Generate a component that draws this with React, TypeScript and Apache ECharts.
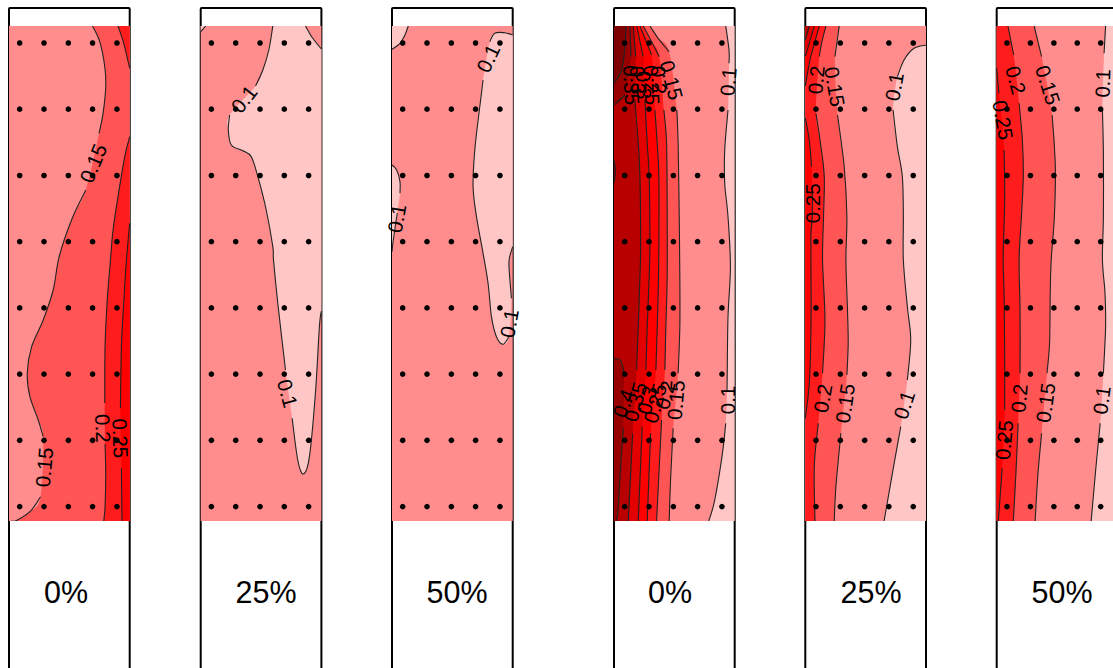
import React, { useEffect, useRef } from "react";
import * as echarts from "echarts";

type P = [number, number] | null;

const panelLeft = [9, 200.7, 392, 614, 805.3, 996.7];
const panelNames = ["0%", "25%", "50%", "0%", "25%", "50%"];
const panelNameX = [66, 266, 457, 670, 871, 1062];
const dotX = [10.7, 35.1, 59.5, 83.8, 108.2];
const dotY = [17, 83.2, 149.5, 215.7, 281.9, 348.1, 414.3, 480.6];
const levelColors = ["#FFC6C6", "#FF8D8D", "#FF5555", "#FF1C1C", "#FF0000", "#E30000", "#B80000", "#980000", "#7E0000"];

// ---- Panel 1 contours
const a15: P[] = [[83.7,0],[91,15.7],[96,40.7],[97,60.7],[94.3,87.3],[90.3,107.3],null,[77,164],[62.7,194],[50.3,230.7],[44.3,264],[34.3,294],[22.7,320.7],[18.3,347.3],[21,370.7],[29.3,394],[34.3,410.7],null,[31.7,470.7],[21,485.7],[7,494.7],[2,495]];
const a20a: P[] = [[109.3,0],[115,17.3],[121,42.3]];
const a20b: P[] = [[121,110.7],[116,130.7],[109.3,170.7],[104.3,204],[101.7,234],[98.3,277.3],[96.3,320.7],[96,377],null,[96.3,418],[97,447.3],[96.3,480.7],[95,495]];
const a25: P[] = [[121,197.3],[117.7,234],[115,277.3],[112.7,320.7],[111.7,382.3],null,[112.7,442.3],[113.3,495]];
// ---- Panel 2 contours
const b10tl: P[] = [[0,5.7],[5,0]];
const b10: P[] = [[72.3,0],[68.3,24],[62.3,44],[55,60],null,[29,89],[27.7,104],[30.7,119],[42.3,124.7],[50.7,130.7],[57.3,150.7],[65.7,184],[72.3,220.7],[73,234],[77.3,277.3],[85,344],null,[91.7,392.3],[97.3,434],[103,448],[109,430.7],[115,367.3],[119,300.7],[121,285]];
const b10tr: P[] = [[121,23],[112.3,12.3],[105,0]];
// ---- Panel 3 contours
const c10tl: P[] = [[0,23.3],[8,17.3],[13,9],[16.3,0]];
const c10l: P[] = [[0,139],[4.7,144],[8,155.7],[8,167.3],null,[5.3,187],[1.3,214],[0,225.7]];
const c10r: P[] = [[121,9],[113,6.7],[103,7.3],[98,15.7],null,[91.3,54],[88,80.7],[83,124],[81.3,160.7],[84.7,190.7],[91.3,227.3],[96.3,257.3],[99.7,290.7],[104.7,310.7],[111.3,318.3],[117.3,310.7],null,[119.7,272.3],[117.3,240.7],[118,230.7],[121,220.7]];
// ---- Panel 4 contours
const d10: P[] = [[112,0],[115.3,24],[115.3,37.3],null,[114.3,84],[111,124],[111,157.3],[114.3,190.7],[116.7,240.7],[114.3,290.7],[113.5,347.3],[113.3,365],null,[112,397.3],[108.7,427.3],[101,474],[95,495]];
const d15: P[] = [[36,0],[44.3,12.3],[55.3,25.7],null,[63,84],[64.3,117.3],[65.3,184],[66,250.7],[66,300.7],[64.3,347.3],null,[59.3,402.3],[56.7,454],[55.3,495]];
const d20: P[] = [[29.3,0],[37.7,15.7],[45.3,30.7],null,[50,84],[52.7,117.3],[53.3,184],[53.3,250.7],[52,300.7],[51,344],null,[47.7,394],[42.7,495]];
const d25: P[] = [[26,0],[37.7,29],null,[41,84],[43.3,117.3],[45,150.7],[45,217.3],[44.3,267.3],[42,344],null,[36.7,407.3],[33.3,495]];
const d30: P[] = [[22.7,0],[29.3,30.7],null,[31,74],[33.3,117.3],[35.3,150.7],[36,217.3],[35.3,250.7],[33.3,300.7],[32,344],null,[28.3,400.7],[24.3,495]];
const d35: P[] = [[19.3,0],[21.7,30.7],null,[21,74],[24.3,117.3],[26,150.7],[26.7,217.3],[26,250.7],[24.3,300.7],[22.7,344],null,[18.7,407.3],[14.3,495]];
const d40a: P[] = [[16,0],[17,30.7],null,[11,69],[0,79]];
const d40b: P[] = [[0,134],[1.5,145],[0,157]];
const d40c: P[] = [[0,332.3],[6,334],[9.3,342.3],[10,350.7],null,[9.3,402.3],[6.7,440.7],[4.3,480.7],[2.7,495]];
const d45: P[] = [[12,0],[11,20.7],[7.7,44],[0,57.3]];
// ---- Panel 5 contours
const e10: P[] = [[121,19],[109,22.3],[99,34],[92.3,50.7],null,[88,84],[92.3,120.7],[97.3,150.7],[98.3,190.7],[98.3,234],[102.3,280.7],[105.7,314],[102.3,354],null,[95.7,400.7],[87.3,447.3],[79,495]];
const e15: P[] = [[34,0],[29.7,30.7],null,[32.3,89],[39,140.7],[41.7,190.7],[40.7,234],[42.3,284],[43,317.3],[41.7,349],null,[35.7,407.3],[30.7,460.7],[29,495]];
const e20: P[] = [[20.7,0],[16.3,17.3],[14,30.7],null,[10.7,87.3],[15.7,120.7],[19,150.7],[18.3,190.7],[17.3,234],[19.7,294],[17.3,347.3],null,[13,397.3],[9,440.7],[9.7,495]];
const e25a: P[] = [[14,0],[7.3,24],[4,37.3],[0,60]];
const e25b: P[] = [[0,92],[4,114],[6.3,140.7],null,[7,160],[7,190],[5.7,207],[5.7,234],[5.7,300.7],[4,357.3],[0,392.3]];
const e30: P[] = [[9,0],[4,17.3],[1,27.3],[0,30]];
const e35: P[] = [[4,0],[0,14]];
// ---- Panel 6 contours
const f10: P[] = [[113.3,0],[111.7,27.3],null,[110,84],[111,127.3],[111,190.7],[110,234],[112.7,267.3],[113.3,300.7],[111,347.3],null,[107.7,397.3],[103.3,440.7],[98.3,495]];
const f15: P[] = [[39,0],[46.7,30.7],null,[57.7,89],[61,140.7],[60,190.7],[56.7,234],[55.7,267.3],[55,317.3],[52.3,347.3],null,[46.7,407.3],[42.7,450.7],[40,495]];
const f20: P[] = [[11.7,0],[17.7,29],null,[23.3,77.3],[26.7,114],[27.7,150.7],[25.7,190.7],[23.3,234],[24.3,284],[24.3,347.3],null,[22.3,397.3],[20,447.3],[17.3,495]];
const f25: P[] = [[0,42.3],[2.3,67.3],null,[7.7,124],[8.3,174],[6.7,234],[7.7,267.3],[8.3,334],[8.3,384],null,[5.7,442.3],[1.7,495]];

const BL: P = [0, 495];
const BR: P = [121, 495];
const TL: P = [0, 0];
const TR: P = [121, 0];

// [level, ...boundary parts], painted in order over the panel's base level
const panelBase = [1, 1, 1, 0, 1, 1];
const panelFills: [number, P[][]][][] = [
  [[2, [a15, [BR, TR]]], [3, [a20a, [TR]]], [3, [a20b, [BR]]], [4, [a25, [BR]]]],
  [[0, [b10tl, [TL]]], [0, [b10, b10tr]]],
  [[0, [c10tl, [TL]]], [0, [c10l]], [0, [c10r]]],
  [[1, [d10, [BL, TL]]], [2, [d15, [BL, TL]]], [3, [d20, [BL, TL]]], [4, [d25, [BL, TL]]], [5, [d30, [BL, TL]]], [6, [d35, [BL, TL]]], [7, [d40a, [TL]]], [7, [d40b]], [7, [d40c, [BL]]], [8, [d45, [TL]]]],
  [[0, [e10, [BR]]], [2, [e15, [BL, TL]]], [3, [e20, [BL, TL]]], [4, [e25a, [TL]]], [4, [e25b]], [5, [e30, [TL]]], [6, [e35, [TL]]]],
  [[0, [f10, [BR, TR]]], [2, [f15, [BL, TL]]], [3, [f20, [BL, TL]]], [4, [f25, [BL]]]],
];
const panelLines: P[][][] = [
  [a15, a20a, a20b, a25],
  [b10tl, b10, b10tr],
  [c10tl, c10l, c10r],
  [d10, d15, d20, d25, d30, d35, d40a, d40b, d40c, d45],
  [e10, e15, e20, e25a, e25b, e30, e35],
  [f10, f15, f20, f25],
];
// [x, y, rotation in degrees, text]
const panelLabels: [number, number, number, string][][] = [
  [[84.3,137.3,67,"0.15"],[35,441.3,85,"0.15"],[94.3,402.3,-88,"0.2"],[111.7,412.3,-88,"0.25"]],
  [[43.3,73,52,"0.1"],[87.3,367.3,-75,"0.1"]],
  [[96.3,32.3,65,"0.1"],[4.7,192.3,80,"0.1"],[117.3,297.3,80,"0.1"]],
  [[114.3,55.7,85,"0.1"],[57.7,54,-75,"0.15"],[17.5,59,-87,"0.35"],[24,54,-87,"0.3"],[30,59,-87,"0.3"],[38,59,-87,"0.25"],[45,54,-87,"0.2"],
   [113.7,374,90,"0.1"],[62,374,85,"0.15"],[51,369,75,"0.2"],[41,377.3,75,"0.25"],[32.7,374,75,"0.3"],[21,375.7,75,"0.35"],[9.3,377.3,70,"0.4"]],
  [[29.7,60.7,-80,"0.15"],[10.7,54,85,"0.2"],[89,60.7,80,"0.1"],[7.3,177.3,90,"0.25"],[17.3,372.3,80,"0.2"],[39.7,377.3,82,"0.15"],[99,379,72,"0.1"]],
  [[20,54,-75,"0.2"],[53.3,59,-72,"0.15"],[6.7,94,-80,"0.25"],[110,57.3,88,"0.1"],[23.3,372.3,85,"0.2"],[50.7,376.7,82,"0.15"],[109,374,82,"0.1"],[7.7,414,85,"0.25"]],
];

function smoothTo(pts: number[][], move: boolean): string {
  let d = move ? `M${pts[0][0]} ${pts[0][1]}` : `L${pts[0][0]} ${pts[0][1]}`;
  for (let i = 0; i < pts.length - 1; i++) {
    const p0 = pts[Math.max(i - 1, 0)];
    const p1 = pts[i];
    const p2 = pts[i + 1];
    const p3 = pts[Math.min(i + 2, pts.length - 1)];
    const c1x = p1[0] + (p2[0] - p0[0]) / 6;
    const c1y = p1[1] + (p2[1] - p0[1]) / 6;
    const c2x = p2[0] - (p3[0] - p1[0]) / 6;
    const c2y = p2[1] - (p3[1] - p1[1]) / 6;
    d += `C${c1x} ${c1y} ${c2x} ${c2y} ${p2[0]} ${p2[1]}`;
  }
  return d;
}

function splitLine(line: P[]): number[][][] {
  const out: number[][][] = [];
  let cur: number[][] = [];
  for (const p of line) {
    if (p === null) {
      if (cur.length) out.push(cur);
      cur = [];
    } else cur.push(p);
  }
  if (cur.length) out.push(cur);
  return out;
}

const FONT = '"Liberation Sans", Arial, sans-serif';

export default function App() {
  const ref = useRef<HTMLDivElement>(null);
  useEffect(() => {
    document.body.style.margin = "0";
    document.body.style.overflow = "hidden";
    const chart = echarts.init(ref.current!, undefined, { renderer: "svg" });
    const grid: any[] = [];
    const xAxis: any[] = [];
    const yAxis: any[] = [];
    const series: any[] = [];
    const graphic: any[] = [];
    panelLeft.forEach((left, i) => {
      grid.push({ left, top: 26, width: 120.7, height: 495 });
      xAxis.push({ type: "value", gridIndex: i, min: 0, max: 121, show: false });
      yAxis.push({ type: "value", gridIndex: i, min: 0, max: 495, inverse: true, show: false });
      graphic.push({
        type: "rect", z: 0,
        shape: { x: left, y: 8, width: 120.7, height: 720, r: 1 },
        style: { fill: "#fff", stroke: "#000", lineWidth: 2 },
      });
      graphic.push({
        type: "text", z: 10, x: panelNameX[i], y: 591.5,
        style: { text: panelNames[i], font: `30.5px ${FONT}`, fill: "#000", align: "center", verticalAlign: "middle" },
      });
      const fills = [[panelBase[i], [[TL, TR, BR, BL]]] as [number, P[][]], ...panelFills[i]];
      series.push({
        type: "custom", coordinateSystem: "cartesian2d", xAxisIndex: i, yAxisIndex: i, z: 2, clip: true, silent: true,
        data: fills.map((_, k) => [k]), encode: { x: -1, y: -1 },
        renderItem: (params: any, api: any) => {
          const [level, parts] = fills[params.dataIndex];
          let d = "";
          parts.forEach((part, k) => {
            const pts = (part.filter((p) => p !== null) as number[][]).map((p) => api.coord(p));
            if (part === fills[0][1][0]) d += `M${pts.map((p: number[]) => p.join(" ")).join("L")}`;
            else if (part.length <= 2 && k > 0) d += pts.map((p: number[]) => `L${p[0]} ${p[1]}`).join("");
            else d += smoothTo(pts, k === 0);
          });
          return { type: "path", shape: { pathData: d + "Z" }, style: { fill: levelColors[level], stroke: null } };
        },
      });
      const pieces = panelLines[i].flatMap(splitLine);
      series.push({
        type: "custom", coordinateSystem: "cartesian2d", xAxisIndex: i, yAxisIndex: i, z: 3, clip: true, silent: true,
        data: pieces.map((_, k) => [k]), encode: { x: -1, y: -1 },
        renderItem: (params: any, api: any) => {
          const pts = pieces[params.dataIndex].map((p) => api.coord(p));
          return { type: "path", shape: { pathData: smoothTo(pts, true) }, style: { fill: null, stroke: "#222", lineWidth: 1.1 } };
        },
      });
      series.push({
        type: "scatter", xAxisIndex: i, yAxisIndex: i, z: 4, silent: true, symbol: "circle", symbolSize: 5.6,
        itemStyle: { color: "#000", opacity: 1 },
        data: dotX.flatMap((x) => dotY.map((y) => [x, y])),
      });
      const labels = panelLabels[i];
      series.push({
        type: "custom", coordinateSystem: "cartesian2d", xAxisIndex: i, yAxisIndex: i, z: 5, clip: false, silent: true,
        data: labels.map((_, k) => [k]), encode: { x: -1, y: -1 },
        renderItem: (params: any, api: any) => {
          const [x, y, rot, text] = labels[params.dataIndex];
          const c = api.coord([x, y]);
          return {
            type: "text", x: c[0], y: c[1], rotation: (rot * Math.PI) / 180,
            style: { text, font: `20.5px ${FONT}`, fill: "#000", align: "center", verticalAlign: "middle" },
          };
        },
      });
    });
    chart.setOption({ animation: false, tooltip: { show: false }, grid, xAxis, yAxis, series, graphic });
    return () => chart.dispose();
  }, []);
  return <div ref={ref} style={{ width: 1113, height: 668, background: "#fff" }} />;
}
